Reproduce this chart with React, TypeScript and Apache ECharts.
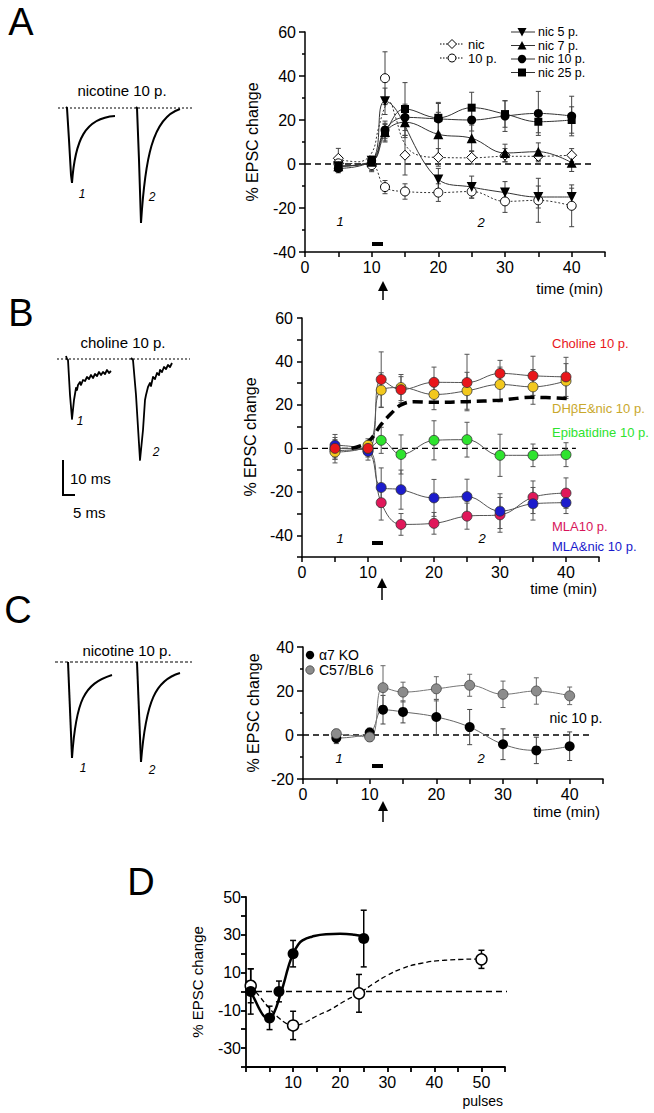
import React, { useEffect, useRef } from 'react';
import * as echarts from 'echarts';

const FONT = '"Liberation Sans", Arial, Helvetica, sans-serif';

// ---------- shared time points (min) ----------
const TIMES = [5, 10, 12, 15, 20, 25, 30, 35, 40];
const X_TICKS_TIME = [0, 10, 20, 30, 40];

// ---------- Panel A ----------
const A_NIC = [2.6, 0, 39, 4, 3, 3, 4, 3.5, 4];
const A_NIC_ERR = [4.5, 3, 12, 9, 4, 3, 3, 2.5, 3];
const A_10P = [0.3, -0.5, -10.5, -12.5, -13, -12.5, -17, -16.5, -19];
const A_10P_ERR = [2, 3, 3, 3.5, 4, 3, 5, 10, 9.5];
const A_NIC5 = [-1, 1.5, 28.5, null, -7, -10.5, -13, -15, -15];
const A_NIC5_ERR = [2, 2, 6, 0, 5, 5, 5, 5, 4];
const A_NIC7 = [-1, 1, 14.5, 19, 13.5, 11.7, 5, 5.6, 0.6];
const A_NIC7_ERR = [2, 2, 4, 7, 10, 6, 4, 4, 4];
const A_NIC10 = [-2, 1.5, 15.5, 21.2, 20.5, 20, 21.8, 23, 21.8];
const A_NIC10_ERR = [2, 2, 4, 6, 7, 5, 7, 10, 9];
const A_NIC25 = [-1, 1, 14, 25, 21, 25.6, 22.7, 19.2, 20];
const A_NIC25_ERR = [2, 2, 4, 12, 7, 7, 6, 5, 6];
// fitted dotted curve of "nic"
const A_NIC_FIT_X = [5, 8, 10, 11, 12, 12.7, 13.5, 15, 17, 20, 25, 30, 35, 40];
const A_NIC_FIT_Y = [2, 1, 5, 16, 26, 28, 22, 9, 4, 3, 2.8, 3.5, 3.5, 4];

// ---------- Panel B ----------
const B_CHOLINE = [0, 0, 31.7, 27, 30.4, 30.3, 34.5, 33.4, 32.9];
const B_CHOLINE_ERR = [5, 3, 12.7, 6, 7, 13, 6, 9, 9];
const B_DHBE = [-1.7, 1.4, 26.8, 28, 24.8, 26.5, 29.4, 28.3, 31];
const B_DHBE_ERR = [5, 3, 8, 6, 7, 8.5, 8, 8, 8];
const B_EPI = [-1, 0, 3.7, -2.8, 3.7, 4, -3.2, -3.2, -2.9];
const B_EPI_ERR = [4, 3, 6, 9, 9, 8, 9.7, 5.2, 5.5];
const B_MLA = [0, -1, -25, -35, -34.5, -31.2, -30.6, -22.5, -20.6];
const B_MLA_ERR = [4, 3, 8, 5, 5, 6, 8, 7.5, 7];
const B_MLANIC = [1.4, -1.4, -18, -19, -22.8, -22.2, -28.9, -25.5, -25];
const B_MLANIC_ERR = [5, 4, 9, 9, 8.5, 8, 8, 7.5, 5];
const B_FIT_X = [7.5, 10, 12, 13.5, 15, 17, 20, 25, 30, 35, 41];
const B_FIT_Y = [0, 3, 11, 16, 20, 21.5, 21.2, 21.5, 22.2, 23.5, 22.8];

// ---------- Panel C ----------
const C_KO = [-1.4, 1.1, 11.5, 10.5, 8.2, 3.6, -4.2, -7, -5.1];
const C_KO_ERR = [2.5, 2, 6.5, 5, 8, 8, 7, 6, 6.5];
const C_WT = [0.6, -0.9, 21.5, 19.5, 21, 22.6, 18.5, 20, 17.8];
const C_WT_ERR = [2, 2, 10, 4.5, 5.5, 5, 6, 6, 4];

// ---------- Panel D ----------
const D_FILLED_X = [1, 5, 7, 10, 25];
const D_FILLED_Y = [0, -14, 0, 20, 28];
const D_FILLED_ERR = [12, 6.2, 5.5, 7, 15];
const D_OPEN_X = [1, 10, 24, 50];
const D_OPEN_Y = [3, -18, -1, 17];
const D_OPEN_ERR = [9, 7.5, 10, 4.8];
const D_FIT_SOLID_X = [1, 2, 3, 4, 5, 6, 7, 8, 9, 10, 11, 12, 14, 17, 20, 23, 25];
const D_FIT_SOLID_Y = [0, -5, -10, -13.5, -14.5, -11, -4, 4, 13, 20, 24.5, 27, 29, 30.3, 30.5, 30, 29];
const D_FIT_DASH_X = [1, 3, 5, 7, 9, 10, 12, 15, 18, 21, 24, 27, 30, 33, 37, 42, 50];
const D_FIT_DASH_Y = [3, -3, -9, -14, -17.5, -18, -17, -13, -9.5, -5, -1, 4, 8.5, 12, 14.8, 16.5, 17.2];

function pairs(xs: number[], ys: (number | null)[]) {
  const out: number[][] = [];
  xs.forEach((x, i) => {
    const y = ys[i];
    if (y !== null && y !== undefined) out.push([x, y]);
  });
  return out;
}
function triples(xs: number[], ys: (number | null)[], es: number[]) {
  const out: number[][] = [];
  xs.forEach((x, i) => {
    const y = ys[i];
    if (y !== null && y !== undefined) out.push([x, y, es[i]]);
  });
  return out;
}

function fitLine(g: number, data: any[], color: string, width: number, dash: any, smooth: number = 0.4, z = 2) {
  return {
    type: 'line', xAxisIndex: g, yAxisIndex: g, data, smooth, symbol: 'none', silent: true, z,
    clip: false, animation: false,
    lineStyle: { color, width, type: dash },
  };
}
function marks(g: number, data: any[], symbol: string, size: number, fill: string, stroke: string, bw: number, rotate = 0) {
  return {
    type: 'scatter', xAxisIndex: g, yAxisIndex: g, data, symbol, symbolSize: size, symbolRotate: rotate,
    silent: true, z: 5, animation: false,
    itemStyle: { color: fill, borderColor: stroke, borderWidth: bw, opacity: 1 },
  };
}
function errBars(g: number, data: any[], color: string, width: number, cap: number) {
  return {
    type: 'custom', xAxisIndex: g, yAxisIndex: g, data, silent: true, z: 3, animation: false,
    encode: { x: 0, y: 1 },
    renderItem: (params: any, api: any) => {
      const x = api.value(0), y = api.value(1), e = api.value(2);
      const t = api.coord([x, y + e]);
      const b = api.coord([x, y - e]);
      const st = { stroke: color, lineWidth: width };
      return {
        type: 'group',
        children: [
          { type: 'line', shape: { x1: t[0], y1: t[1], x2: b[0], y2: b[1] }, style: st },
          { type: 'line', shape: { x1: t[0] - cap, y1: t[1], x2: t[0] + cap, y2: t[1] }, style: st },
          { type: 'line', shape: { x1: b[0] - cap, y1: b[1], x2: b[0] + cap, y2: b[1] }, style: st },
        ],
      };
    },
  };
}
function zeroLine(g: number, x0: number, x1: number, width = 1.4) {
  return fitLine(g, [[x0, 0], [x1, 0]], '#000', width, [6, 4], 0, 1);
}

function xAx(g: number, min: number, max: number, interval: number, fmt: (v: number) => string, lw = 1.5, fs = 16) {
  return {
    type: 'value', gridIndex: g, min, max, interval,
    axisLine: { show: true, onZero: false, lineStyle: { color: '#000', width: lw } },
    axisTick: { show: true, length: 5, lineStyle: { color: '#000', width: lw } },
    axisLabel: { show: true, color: '#000', fontSize: fs, fontFamily: FONT, margin: 7, formatter: fmt },
    splitLine: { show: false },
  };
}
function yAx(g: number, min: number, max: number, interval: number, fmt: (v: number) => string, minor: boolean, lw = 1.5, fs = 16, margin = 9) {
  return {
    type: 'value', gridIndex: g, min, max, interval,
    axisLine: { show: true, onZero: false, lineStyle: { color: '#000', width: lw } },
    axisTick: { show: true, length: minor ? 6 : 5, lineStyle: { color: '#000', width: lw } },
    minorTick: { show: minor, splitNumber: 2, length: 3, lineStyle: { color: '#000', width: lw } },
    axisLabel: { show: true, color: '#000', fontSize: fs, fontFamily: FONT, margin, formatter: fmt },
    splitLine: { show: false },
    minorSplitLine: { show: false },
  };
}

function buildGraphics() {
  const g: any[] = [];
  const text = (x: number, y: number, t: string, fs: number, extra: any = {}, rot = 0) =>
    g.push({
      type: 'text', x, y, rotation: rot, silent: true,
      style: { text: t, fontSize: fs, fontFamily: FONT, fill: '#000', align: 'left', verticalAlign: 'middle', ...extra },
    });
  const line = (x1: number, y1: number, x2: number, y2: number, w = 1.5, dash: any = null, color = '#000') =>
    g.push({ type: 'line', silent: true, shape: { x1, y1, x2, y2 }, style: { stroke: color, lineWidth: w, lineDash: dash } });
  const poly = (points: number[][], w = 2) =>
    g.push({ type: 'polyline', silent: true, shape: { points }, style: { stroke: '#000', lineWidth: w, fill: null, lineJoin: 'round' } });
  const bez = (x1: number, y1: number, c1x: number, c1y: number, c2x: number, c2y: number, x2: number, y2: number, w = 2) =>
    g.push({ type: 'bezierCurve', silent: true, shape: { x1, y1, cpx1: c1x, cpy1: c1y, cpx2: c2x, cpy2: c2y, x2, y2 }, style: { stroke: '#000', lineWidth: w, fill: null } });
  const arrow = (x: number, top: number, bottom: number) => {
    g.push({ type: 'polygon', silent: true, shape: { points: [[x - 5, top + 10], [x, top], [x + 5, top + 10]] }, style: { fill: '#000' } });
    line(x, top + 8, x, bottom, 1.5);
  };
  const bar = (x: number, y: number) =>
    g.push({ type: 'rect', silent: true, shape: { x, y, width: 11, height: 4 }, style: { fill: '#000' } });

  // Panel letters
  text(21, 22, 'A', 38, { align: 'center' });
  text(21, 313, 'B', 38, { align: 'center' });
  text(18, 610, 'C', 38, { align: 'center' });
  text(141, 882, 'D', 38, { align: 'center' });

  // ---- Panel A traces ----
  text(122, 90, 'nicotine 10 p.', 15, { align: 'center' });
  line(58, 108, 192, 108, 1.2, [2, 2]);
  poly([[66, 107], [67, 108], [69, 140], [71, 175], [72, 183]]);
  bez(72, 183, 75, 140, 85, 118, 115, 116);
  poly([[136, 107], [137, 108], [139, 160], [141, 223]]);
  bez(141, 223, 145, 160, 152, 118, 180, 109);
  text(82, 194, '1', 12, { fontStyle: 'italic', align: 'center' });
  text(152, 197, '2', 12, { fontStyle: 'italic', align: 'center' });

  // ---- Panel A chart annotations ----
  text(252, 142, '% EPSC change', 16, { align: 'center' }, Math.PI / 2);
  text(603, 288, 'time (min)', 15, { align: 'right' });
  arrow(383, 281, 300);
  bar(372, 242);
  text(340, 221, '1', 13, { fontStyle: 'italic', align: 'center' });
  text(481, 222, '2', 13, { fontStyle: 'italic', align: 'center' });
  // legend left
  line(440, 44, 464, 44, 1, [1.5, 1.5]);
  g.push({ type: 'polygon', silent: true, shape: { points: [[452, 39.5], [456.5, 44], [452, 48.5], [447.5, 44]] }, style: { fill: '#fff', stroke: '#000', lineWidth: 1 } });
  text(468, 44, 'nic', 13);
  line(440, 58, 464, 58, 1, [1.5, 1.5]);
  g.push({ type: 'circle', silent: true, shape: { cx: 452, cy: 58, r: 4 }, style: { fill: '#fff', stroke: '#000', lineWidth: 1 } });
  text(468, 58, '10 p.', 13);
  // legend right
  const rows = [32, 45.5, 59, 72.5];
  const labels = ['nic 5 p.', 'nic 7 p.', 'nic 10 p.', 'nic 25 p.'];
  rows.forEach((y, i) => {
    line(511, y, 535, y, 1, null, '#333');
    text(538, y, labels[i], 12.5);
  });
  g.push({ type: 'polygon', silent: true, shape: { points: [[517.5, 28], [526.5, 28], [522, 36.5]] }, style: { fill: '#000' } });
  g.push({ type: 'polygon', silent: true, shape: { points: [[517.5, 49.5], [526.5, 49.5], [522, 41]] }, style: { fill: '#000' } });
  g.push({ type: 'circle', silent: true, shape: { cx: 522, cy: 59, r: 4.2 }, style: { fill: '#000' } });
  g.push({ type: 'rect', silent: true, shape: { x: 518, y: 68.5, width: 8, height: 8 }, style: { fill: '#000' } });

  // ---- Panel B traces ----
  text(123, 342, 'choline 10 p.', 15, { align: 'center' });
  line(57, 359, 190, 359, 1.2, [2, 2]);
  poly([[66, 356], [67, 359], [68, 360], [70, 395], [72, 419], [74, 400], [76, 388], [77, 390], [78, 385], [80, 382], [81, 385], [83, 380], [85, 381], [87, 377], [89, 379], [91, 375], [93, 378], [95, 374], [97, 376], [99, 372], [101, 375], [103, 372], [105, 374], [107, 370], [109, 373], [111, 371]], 1.8);
  poly([[131, 358], [133, 360], [136, 395], [140, 460], [142, 440], [143, 430], [145, 400], [146, 395], [148, 387], [150, 383], [151, 386], [153, 377], [155, 379], [157, 373], [159, 375], [160, 370], [162, 372], [164, 367], [166, 369], [168, 365], [170, 367], [172, 363]], 1.8);
  text(80, 421, '1', 12, { fontStyle: 'italic', align: 'center' });
  text(156, 452, '2', 12, { fontStyle: 'italic', align: 'center' });
  line(63, 460, 63, 496, 2);
  line(62, 495, 75, 495, 2);
  text(70, 478, '10 ms', 15);
  text(73, 512, '5 ms', 15);

  // ---- Panel B chart annotations ----
  text(250, 437, '% EPSC change', 16, { align: 'center' }, Math.PI / 2);
  text(597, 588, 'time (min)', 15, { align: 'right' });
  arrow(382, 578, 600);
  bar(372, 541);
  text(340, 538, '1', 13, { fontStyle: 'italic', align: 'center' });
  text(482, 538, '2', 13, { fontStyle: 'italic', align: 'center' });
  text(552, 343, 'Choline 10 p.', 13, { fill: '#e8161b' });
  text(552, 408, 'DHβE&nic 10 p.', 13, { fill: '#c9a82c' });
  text(552, 432, 'Epibatidine 10 p.', 13, { fill: '#2ee32e' });
  text(552, 526, 'MLA10 p.', 13, { fill: '#d8155a' });
  text(552, 546, 'MLA&nic 10 p.', 13, { fill: '#1a1acc' });

  // ---- Panel C traces ----
  text(127, 650, 'nicotine 10 p.', 15, { align: 'center' });
  line(55, 662, 192, 662, 1.2, [3, 2]);
  poly([[68, 662], [70, 710], [72, 758]]);
  bez(72, 758, 76, 700, 84, 684, 112, 675);
  poly([[137, 662], [139, 712], [141, 762]]);
  bez(141, 762, 146, 700, 156, 680, 180, 673);
  text(83, 768, '1', 12, { fontStyle: 'italic', align: 'center' });
  text(152, 770, '2', 12, { fontStyle: 'italic', align: 'center' });

  // ---- Panel C chart annotations ----
  text(253, 713, '% EPSC change', 16, { align: 'center' }, Math.PI / 2);
  text(600, 811, 'time (min)', 15, { align: 'right' });
  arrow(383, 801, 822);
  bar(372, 764);
  text(339, 758, '1', 13, { fontStyle: 'italic', align: 'center' });
  text(481, 758, '2', 13, { fontStyle: 'italic', align: 'center' });
  g.push({ type: 'circle', silent: true, shape: { cx: 310, cy: 655, r: 4.2 }, style: { fill: '#000' } });
  text(319, 655, 'α7 KO', 14);
  g.push({ type: 'circle', silent: true, shape: { cx: 310, cy: 670, r: 4.2 }, style: { fill: '#8c8c8c', stroke: '#444', lineWidth: 0.8 } });
  text(319, 670, 'C57/BL6', 14);
  text(576, 718, 'nic 10 p.', 14, { align: 'center' });

  // ---- Panel D annotations ----
  text(197, 982, '% EPSC change', 15, { align: 'center' }, Math.PI / 2);
  text(503, 1101, 'pulses', 14, { align: 'right' });

  return g;
}

function buildOption() {
  const timeFmt = (v: number) => (X_TICKS_TIME.indexOf(v) >= 0 ? String(v) : '');
  const series: any[] = [];

  // ----- A -----
  series.push(zeroLine(0, 0, 43));
  series.push(fitLine(0, pairs(A_NIC_FIT_X, A_NIC_FIT_Y), '#333', 1, [2, 2], 0.4));
  series.push(fitLine(0, pairs(TIMES, A_10P), '#333', 1, [2, 2]));
  series.push(fitLine(0, pairs(TIMES, A_NIC5), '#333', 1, 'solid'));
  series.push(fitLine(0, pairs(TIMES, A_NIC7), '#333', 1, 'solid'));
  series.push(fitLine(0, pairs(TIMES, A_NIC10), '#333', 1, 'solid'));
  series.push(fitLine(0, pairs(TIMES, A_NIC25), '#333', 1, 'solid'));
  [[A_NIC, A_NIC_ERR], [A_10P, A_10P_ERR], [A_NIC5, A_NIC5_ERR], [A_NIC7, A_NIC7_ERR], [A_NIC10, A_NIC10_ERR], [A_NIC25, A_NIC25_ERR]]
    .forEach(([v, e]: any) => series.push(errBars(0, triples(TIMES, v, e), '#444', 1, 2.5)));
  const nicPts = pairs(TIMES, A_NIC).map((p) => (p[1] > 30 ? { value: p, symbol: 'circle', symbolSize: 9 } : p));
  series.push(marks(0, nicPts, 'diamond', 10, '#fff', '#000', 1));
  series.push(marks(0, pairs(TIMES, A_10P), 'circle', 9, '#fff', '#000', 1));
  series.push(marks(0, pairs(TIMES, A_NIC7), 'triangle', 10, '#000', '#000', 0));
  series.push(marks(0, pairs(TIMES, A_NIC25), 'rect', 8, '#000', '#000', 0));
  series.push(marks(0, pairs(TIMES, A_NIC10), 'circle', 9, '#000', '#000', 0));
  series.push(marks(0, pairs(TIMES, A_NIC5), 'triangle', 10, '#000', '#000', 0, 180));

  // ----- B -----
  series.push(zeroLine(1, 0, 41.5));
  const bSets: any[] = [
    [B_MLA, B_MLA_ERR, '#e0185a'],
    [B_MLANIC, B_MLANIC_ERR, '#1c1ccc'],
    [B_EPI, B_EPI_ERR, '#2ee32e'],
    [B_DHBE, B_DHBE_ERR, '#f2c81e'],
    [B_CHOLINE, B_CHOLINE_ERR, '#e8161b'],
  ];
  bSets.forEach(([v]) => series.push(fitLine(1, pairs(TIMES, v), '#555', 1, 'solid')));
  series.push(fitLine(1, pairs(B_FIT_X, B_FIT_Y), '#000', 3.5, [10, 6], 0.4, 4));
  bSets.forEach(([v, e]) => series.push(errBars(1, triples(TIMES, v, e), '#555', 1, 2.5)));
  bSets.forEach(([v, , c]) => series.push(marks(1, pairs(TIMES, v), 'circle', 10, c, '#333', 0.8)));

  // ----- C -----
  series.push(zeroLine(2, 0, 43));
  series.push(fitLine(2, pairs(TIMES, C_KO), '#666', 1, 'solid'));
  series.push(fitLine(2, pairs(TIMES, C_WT), '#777', 1, 'solid'));
  series.push(errBars(2, triples(TIMES, C_KO, C_KO_ERR), '#444', 1, 2.5));
  series.push(errBars(2, triples(TIMES, C_WT, C_WT_ERR), '#666', 1, 2.5));
  series.push(marks(2, pairs(TIMES, C_KO), 'circle', 10, '#000', '#000', 0));
  series.push(marks(2, pairs(TIMES, C_WT), 'circle', 10, '#8c8c8c', '#444', 0.8));

  // ----- D -----
  series.push(zeroLine(3, 0, 56.5, 1.4));
  series.push(fitLine(3, pairs(D_FIT_SOLID_X, D_FIT_SOLID_Y), '#000', 2.5, 'solid', 0.5));
  series.push(fitLine(3, pairs(D_FIT_DASH_X, D_FIT_DASH_Y), '#000', 1.3, [5, 3], 0.5));
  series.push(errBars(3, triples(D_FILLED_X, D_FILLED_Y, D_FILLED_ERR), '#000', 1.5, 3));
  series.push(errBars(3, triples(D_OPEN_X, D_OPEN_Y, D_OPEN_ERR), '#000', 1.5, 3));
  series.push(marks(3, pairs(D_OPEN_X, D_OPEN_Y), 'circle', 11, '#fff', '#000', 1.5));
  series.push(marks(3, pairs(D_FILLED_X, D_FILLED_Y), 'circle', 11, '#000', '#000', 0));

  return {
    animation: false,
    backgroundColor: '#fff',
    textStyle: { fontFamily: FONT },
    grid: [
      { left: 305, top: 32, width: 300, height: 220 },
      { left: 302, top: 318, width: 297, height: 239 },
      { left: 303, top: 647, width: 300, height: 132 },
      { left: 246, top: 897, width: 259, height: 170 },
    ],
    xAxis: [
      xAx(0, 0, 45, 5, timeFmt),
      xAx(1, 0, 45, 5, timeFmt),
      xAx(2, 0, 45, 5, timeFmt),
      xAx(3, 0, 55, 5, (v: number) => (v > 0 && v % 10 === 0 ? String(v) : ''), 1.8, 16),
    ],
    yAxis: [
      yAx(0, -40, 60, 20, (v: number) => String(v), true),
      yAx(1, -50, 60, 10, (v: number) => (v % 20 === 0 ? String(v) : ''), false),
      yAx(2, -20, 40, 20, (v: number) => String(v), true),
      yAx(3, -40, 50, 10, (v: number) => (Math.abs(v) % 20 === 10 ? String(v) : ''), false, 1.8, 16, 5),
    ],
    series,
    graphic: buildGraphics(),
  };
}

export default function App() {
  const ref = useRef<HTMLDivElement>(null);
  useEffect(() => {
    const chart = echarts.init(ref.current as HTMLDivElement, undefined, { renderer: 'svg' });
    chart.setOption(buildOption() as any);
    return () => chart.dispose();
  }, []);
  return (
    <div
      ref={ref}
      style={{ position: 'absolute', left: 0, top: 0, width: 654, height: 1113, background: '#fff' }}
    />
  );
}
